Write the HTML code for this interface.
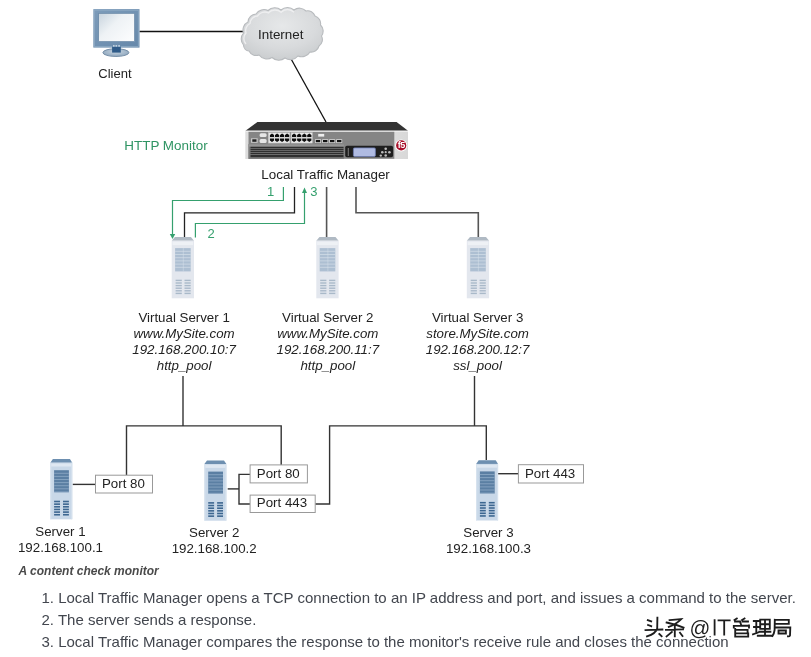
<!DOCTYPE html>
<html><head><meta charset="utf-8">
<style>
html,body{margin:0;padding:0;background:#fff;width:811px;height:657px;overflow:hidden}
svg{position:absolute;left:0;top:0;will-change:transform}
text{font-family:"Liberation Sans",sans-serif}
</style></head><body>
<svg width="811" height="657" viewBox="0 0 811 657">
<defs>
  <linearGradient id="scr" x1="0" y1="0" x2="1" y2="0.8">
    <stop offset="0" stop-color="#c8d4de"/><stop offset="0.45" stop-color="#eef2f5"/><stop offset="1" stop-color="#fbfcfd"/>
  </linearGradient>
  <linearGradient id="frm" x1="0" y1="0" x2="1" y2="1">
    <stop offset="0" stop-color="#7d9cba"/><stop offset="1" stop-color="#6688aa"/>
  </linearGradient>
  <radialGradient id="base" cx="0.5" cy="0.4" r="0.6">
    <stop offset="0" stop-color="#c6d3df"/><stop offset="1" stop-color="#8ea6bd"/>
  </radialGradient>
  <radialGradient id="cld" cx="0.5" cy="0.35" r="0.7">
    <stop offset="0" stop-color="#e6e8e9"/><stop offset="0.6" stop-color="#d8dadc"/><stop offset="1" stop-color="#c8cbcd"/>
  </radialGradient>
  <linearGradient id="endp" x1="0" y1="0" x2="1" y2="0">
    <stop offset="0" stop-color="#dcdcdc"/><stop offset="0.5" stop-color="#eeeeee"/><stop offset="1" stop-color="#d8d8d8"/>
  </linearGradient>
  <g id="vs">
    <polygon points="3.2,0 19.2,0 22.3,3.6 0,3.6" fill="#b0bac4"/>
    <rect x="0" y="3.6" width="22.3" height="57.6" fill="#e3e7ee"/>
    <rect x="0.8" y="4.5" width="20.7" height="3.5" fill="#eef1f5"/>
    <rect x="3.4" y="11" width="15.6" height="23.3" fill="#adbfd2"/>
    <g stroke="#d6e0ea" stroke-width="0.7">
      <line x1="3.4" y1="14.2" x2="19" y2="14.2"/><line x1="3.4" y1="17.4" x2="19" y2="17.4"/>
      <line x1="3.4" y1="20.6" x2="19" y2="20.6"/><line x1="3.4" y1="23.8" x2="19" y2="23.8"/>
      <line x1="3.4" y1="27" x2="19" y2="27"/><line x1="3.4" y1="30.2" x2="19" y2="30.2"/>
      <line x1="11.6" y1="11" x2="11.6" y2="34.3" stroke-width="0.5"/>
    </g>
    <g fill="#a9b9c9">
      <rect x="3.9" y="42.6" width="6.2" height="1.4"/><rect x="12.8" y="42.6" width="6.2" height="1.4"/>
      <rect x="3.9" y="45.2" width="6.2" height="1.4"/><rect x="12.8" y="45.2" width="6.2" height="1.4"/>
      <rect x="3.9" y="47.8" width="6.2" height="1.4"/><rect x="12.8" y="47.8" width="6.2" height="1.4"/>
      <rect x="3.9" y="50.4" width="6.2" height="1.4"/><rect x="12.8" y="50.4" width="6.2" height="1.4"/>
      <rect x="3.9" y="53" width="6.2" height="1.4"/><rect x="12.8" y="53" width="6.2" height="1.4"/>
      <rect x="3.9" y="55.6" width="6.2" height="1.4"/><rect x="12.8" y="55.6" width="6.2" height="1.4"/>
    </g>
  </g>
  <g id="rs">
    <polygon points="2.6,0 19.6,0 22,3.7 0,3.7" fill="#6d8fb0"/>
    <rect x="0" y="3.7" width="22" height="56.6" fill="#c9d8e8"/>
    <rect x="0.8" y="4.5" width="20.4" height="3" fill="#dfe8f2"/>
    <rect x="0" y="3.7" width="1" height="56.6" fill="#d9e4ef"/><rect x="21" y="3.7" width="1" height="56.6" fill="#d9e4ef"/>
    <rect x="3.8" y="11.2" width="14.8" height="22" fill="#5b7fa3"/>
    <g stroke="#8fabc6" stroke-width="0.8"><line x1="3.8" y1="14.3" x2="18.6" y2="14.3"/><line x1="3.8" y1="17.4" x2="18.6" y2="17.4"/><line x1="3.8" y1="20.5" x2="18.6" y2="20.5"/><line x1="3.8" y1="23.6" x2="18.6" y2="23.6"/><line x1="3.8" y1="26.7" x2="18.6" y2="26.7"/><line x1="3.8" y1="29.8" x2="18.6" y2="29.8"/><line x1="3.8" y1="32.9" x2="18.6" y2="32.9"/></g>
    <g fill="#3d6791"><rect x="3.8" y="41.70" width="5.9" height="1.6"/><rect x="12.7" y="41.70" width="5.9" height="1.6"/><rect x="3.8" y="44.35" width="5.9" height="1.6"/><rect x="12.7" y="44.35" width="5.9" height="1.6"/><rect x="3.8" y="47.00" width="5.9" height="1.6"/><rect x="12.7" y="47.00" width="5.9" height="1.6"/><rect x="3.8" y="49.65" width="5.9" height="1.6"/><rect x="12.7" y="49.65" width="5.9" height="1.6"/><rect x="3.8" y="52.30" width="5.9" height="1.6"/><rect x="12.7" y="52.30" width="5.9" height="1.6"/><rect x="3.8" y="54.95" width="5.9" height="1.6"/><rect x="12.7" y="54.95" width="5.9" height="1.6"/></g>
  </g>
</defs>

<!-- top connection lines -->
<g stroke="#111" stroke-width="1.3" fill="none">
  <line x1="139.5" y1="31.5" x2="244" y2="31.5"/>
  <line x1="290" y1="57" x2="326" y2="122"/>
</g>

<!-- client monitor -->
<g>
  <rect x="93.3" y="9.1" width="46.2" height="38.5" fill="url(#frm)"/>
  <rect x="94.5" y="10.3" width="43.8" height="36.1" fill="none" stroke="#8eaac4" stroke-width="0.8"/>
  <rect x="98.7" y="13.4" width="35.8" height="28.1" fill="url(#scr)" stroke="#5f80a0" stroke-width="0.6"/>
  <ellipse cx="115.9" cy="52.6" rx="13" ry="3.9" fill="url(#base)" stroke="#6f89a3" stroke-width="0.9"/>
  <rect x="112.1" y="46.6" width="8.7" height="6" fill="#2f5b89"/>
  <g fill="#e6f0f6"><rect x="113" y="45.3" width="1.6" height="1.2"/><rect x="115.5" y="45.3" width="1.6" height="1.2"/><rect x="118.3" y="45.3" width="1.6" height="1.2"/></g>
</g>
<text x="98.3" y="78.4" font-size="13" fill="#222">Client</text>

<!-- cloud -->
<path d="M243.5,45.0 A9.0,9.0 0 0 1 243.5,33.0 A8.9,8.9 0 0 1 248.0,22.0 A8.5,8.5 0 0 1 256.0,14.0 A9.4,9.4 0 0 1 268.0,10.5 A9.8,9.8 0 0 1 281.0,10.0 A9.8,9.8 0 0 1 294.0,10.0 A9.0,9.0 0 0 1 306.0,11.0 A7.7,7.7 0 0 1 315.0,16.0 A7.9,7.9 0 0 1 320.5,25.0 A8.3,8.3 0 0 1 321.5,36.0 A7.7,7.7 0 0 1 319.0,46.0 A8.1,8.1 0 0 1 310.0,52.0 A9.5,9.5 0 0 1 298.0,56.0 A9.9,9.9 0 0 1 285.0,58.0 A9.8,9.8 0 0 1 272.0,57.5 A9.9,9.9 0 0 1 259.0,55.0 A8.1,8.1 0 0 1 249.0,51.0 A6.1,6.1 0 0 1 243.5,45.0 Z" fill="url(#cld)" stroke="#b8bbbe" stroke-width="1.1"/>
<path d="M246,44 A8,8 0 0 1 246,33 A8,8 0 0 1 250,23.5 A8,8 0 0 1 257.5,16 A9,9 0 0 1 268.5,12.8 A9,9 0 0 1 281,12.3 A9,9 0 0 1 294,12.3" fill="none" stroke="#f2f3f4" stroke-width="1.4" opacity="0.8"/>
<text x="258" y="39.2" font-size="13.4" fill="#222">Internet</text>

<!-- LTM device -->
<g>
  <polygon points="257.4,122 396.6,122 408,130.8 245.5,130.8" fill="#333"/>
  <rect x="245.3" y="130.8" width="162.7" height="28.2" fill="url(#endp)"/>
  <rect x="245.5" y="130.8" width="162.5" height="1" fill="#f2f2f2"/>
  <rect x="248.5" y="131.8" width="145.8" height="27" fill="#858585"/>
  <rect x="248.5" y="144.2" width="95.4" height="14.7" fill="#7c7c7c"/>
  <rect x="248.5" y="144.2" width="95.4" height="2.4" fill="#959595"/>
  <g fill="#2f2f2f">
    <rect x="250.5" y="146.8" width="93" height="1.3"/>
    <rect x="250.5" y="148.8" width="93" height="1.3"/>
    <rect x="250.5" y="150.8" width="93" height="1.3"/>
    <rect x="250.5" y="152.9" width="93" height="1.3"/>
    <rect x="250.5" y="155" width="93" height="2.2"/>
  </g>
  <rect x="268.3" y="132.6" width="21.6" height="10.5" fill="#e8e8e8" stroke="#bbb" stroke-width="0.5"/>
  <rect x="291.1" y="132.6" width="21.3" height="10.5" fill="#e8e8e8" stroke="#bbb" stroke-width="0.5"/>
  <rect x="268.8" y="137.5" width="43" height="0.6" fill="#c4c4c4"/>
  <g fill="#0d0d0d"><polygon points="269.9,136.9 269.9,135.1 272.0,133.5 274.1,135.1 274.1,136.9"/><polygon points="269.9,138.6 269.9,140.4 272.0,142 274.1,140.4 274.1,138.6"/><polygon points="275.0,136.9 275.0,135.1 277.1,133.5 279.2,135.1 279.2,136.9"/><polygon points="275.0,138.6 275.0,140.4 277.1,142 279.2,140.4 279.2,138.6"/><polygon points="280.0,136.9 280.0,135.1 282.1,133.5 284.2,135.1 284.2,136.9"/><polygon points="280.0,138.6 280.0,140.4 282.1,142 284.2,140.4 284.2,138.6"/><polygon points="285.0,136.9 285.0,135.1 287.1,133.5 289.2,135.1 289.2,136.9"/><polygon points="285.0,138.6 285.0,140.4 287.1,142 289.2,140.4 289.2,138.6"/><polygon points="292.0,136.9 292.0,135.1 294.1,133.5 296.2,135.1 296.2,136.9"/><polygon points="292.0,138.6 292.0,140.4 294.1,142 296.2,140.4 296.2,138.6"/><polygon points="297.1,136.9 297.1,135.1 299.2,133.5 301.3,135.1 301.3,136.9"/><polygon points="297.1,138.6 297.1,140.4 299.2,142 301.3,140.4 301.3,138.6"/><polygon points="302.2,136.9 302.2,135.1 304.3,133.5 306.4,135.1 306.4,136.9"/><polygon points="302.2,138.6 302.2,140.4 304.3,142 306.4,140.4 306.4,138.6"/><polygon points="307.2,136.9 307.2,135.1 309.3,133.5 311.4,135.1 311.4,136.9"/><polygon points="307.2,138.6 307.2,140.4 309.3,142 311.4,140.4 311.4,138.6"/></g>
  <rect x="259.6" y="133.2" width="7" height="3.7" rx="1.5" fill="#e6e6e6"/>
  <rect x="259.6" y="139" width="7" height="4.1" rx="1.5" fill="#e6e6e6"/>
  <rect x="251" y="138.3" width="6.7" height="4.5" fill="#c8c8c8"/><rect x="252.3" y="139.3" width="4.2" height="2.5" fill="#222"/>
  <rect x="318.2" y="133.9" width="6" height="2.7" fill="#eee"/>
  <g fill="#ddd"><rect x="315" y="139.3" width="6" height="3.6"/><rect x="322.2" y="139.3" width="6" height="3.6"/><rect x="329.2" y="139.3" width="6" height="3.6"/><rect x="336.2" y="139.3" width="6" height="3.6"/></g>
  <g fill="#111"><rect x="315.8" y="140" width="4.4" height="2.2"/><rect x="323" y="140" width="4.4" height="2.2"/><rect x="330" y="140" width="4.4" height="2.2"/><rect x="337" y="140" width="4.4" height="2.2"/></g>
  <rect x="345.2" y="145.7" width="47.9" height="11.6" rx="1.8" fill="#1e1e1e"/>
  <rect x="347.8" y="148" width="0.9" height="8" fill="#888"/>
  <rect x="353.4" y="147.9" width="22" height="8.6" rx="1.2" fill="#b0bbe2" stroke="#6f7cb0" stroke-width="0.8"/>
  <g fill="#bbb">
    <circle cx="385.7" cy="148.8" r="1.3"/><circle cx="385.7" cy="155.5" r="1.3"/>
    <circle cx="382.3" cy="152.2" r="1.3"/><circle cx="389.4" cy="152.2" r="1.3"/>
    <circle cx="385.7" cy="152.2" r="1.1"/><circle cx="380.8" cy="155.6" r="1.2"/>
  </g>
  <circle cx="401.2" cy="145.4" r="6" fill="#fff"/>
  <circle cx="401.2" cy="145.4" r="5.1" fill="#a8102a"/>
  <text x="401.2" y="148.4" font-size="9" font-weight="bold" font-family="Liberation Serif" text-anchor="middle" letter-spacing="-0.6" fill="#fff">f5</text>
</g>

<!-- labels -->
<text x="124.3" y="150.2" font-size="13.45" fill="#2f9463">HTTP Monitor</text>
<text x="261.3" y="179.3" font-size="13.4" fill="#222">Local Traffic Manager</text>

<!-- LTM to virtual servers -->
<g stroke="#222" stroke-width="1.3" fill="none">
  <polyline points="294.5,187 294.5,212.8 184.5,212.8 184.5,237"/>
</g>
<g stroke="#555" stroke-width="1.6" fill="none">
  <line x1="326.6" y1="187" x2="326.6" y2="237"/>
  <polyline points="356,187 356,212.7 478.3,212.7 478.3,237"/>
</g>
<g stroke="#35a06e" stroke-width="1.2" fill="none">
  <polyline points="283.4,187 283.4,200.5 172.5,200.5 172.5,235"/>
  <polyline points="195.4,237.5 195.4,223.5 304.5,223.5 304.5,192"/>
</g>
<g fill="#35a06e">
  <polygon points="169.8,234 175.2,234 172.5,239"/>
  <polygon points="302,193 307,193 304.5,187.5"/>
</g>
<g font-size="13" fill="#35a06e">
  <text x="267" y="195.5">1</text>
  <text x="310.2" y="195.5">3</text>
  <text x="207.6" y="237.6">2</text>
</g>

<!-- virtual server icons -->
<use href="#vs" x="171.7" y="237.1"/>
<use href="#vs" x="316.3" y="237.1"/>
<use href="#vs" x="466.8" y="237.1"/>

<g font-size="13.3" fill="#222" text-anchor="middle">
  <text x="184.1" y="322">Virtual Server 1</text>
  <text x="184.1" y="338" font-style="italic">www.MySite.com</text>
  <text x="184.1" y="354" font-style="italic">192.168.200.10:7</text>
  <text x="184.1" y="370" font-style="italic">http_pool</text>
  <text x="327.8" y="322">Virtual Server 2</text>
  <text x="327.8" y="338" font-style="italic">www.MySite.com</text>
  <text x="327.8" y="354" font-style="italic">192.168.200.11:7</text>
  <text x="327.8" y="370" font-style="italic">http_pool</text>
  <text x="477.6" y="322">Virtual Server 3</text>
  <text x="477.6" y="338" font-style="italic">store.MySite.com</text>
  <text x="477.6" y="354" font-style="italic">192.168.200.12:7</text>
  <text x="477.6" y="370" font-style="italic">ssl_pool</text>
</g>

<!-- pool connections -->
<g stroke="#333" stroke-width="1.4" fill="none">
  <line x1="183" y1="376" x2="183" y2="425.9"/>
  <polyline points="126.5,475 126.5,425.9 281.2,425.9 281.2,465"/>
  <line x1="474.5" y1="376" x2="474.5" y2="425.9"/>
  <polyline points="315.2,504 329.6,504 329.6,425.9 486.3,425.9 486.3,460"/>
  <line x1="72.6" y1="484.4" x2="95.5" y2="484.4"/>
  <line x1="227.7" y1="488.9" x2="239" y2="488.9"/>
  <polyline points="250.1,474.4 239,474.4 239,504 250.1,504"/>
  <line x1="497.7" y1="473.7" x2="518.4" y2="473.7"/>
</g>

<!-- port boxes -->
<g fill="#fff" stroke="#999" stroke-width="1">
  <rect x="95.5" y="475.2" width="57" height="17.8"/>
  <rect x="250.1" y="464.9" width="57.3" height="18"/>
  <rect x="250.1" y="495.1" width="65.1" height="17.4"/>
  <rect x="518.4" y="464.7" width="65.1" height="18.3"/>
</g>
<g font-size="13.3" fill="#222">
  <text x="102" y="488.1">Port 80</text>
  <text x="256.8" y="477.6">Port 80</text>
  <text x="256.8" y="507.4">Port 443</text>
  <text x="525" y="477.8">Port 443</text>
</g>

<!-- real servers -->
<use href="#rs" x="50.3" y="459"/>
<use href="#rs" x="204.4" y="460.4"/>
<use href="#rs" x="476.1" y="460.2"/>

<g font-size="13.3" fill="#222" text-anchor="middle">
  <text x="60.5" y="535.6">Server 1</text>
  <text x="60.5" y="551.6">192.168.100.1</text>
  <text x="214.2" y="537.2">Server 2</text>
  <text x="214.2" y="553.2">192.168.100.2</text>
  <text x="488.5" y="537">Server 3</text>
  <text x="488.5" y="553">192.168.100.3</text>
</g>

<!-- caption and list -->
<text x="18.5" y="575" font-size="12" font-weight="bold" font-style="italic" fill="#4a4a4a">A content check monitor</text>
<g font-size="15" fill="#42464e">
  <text x="41.5" y="603">1. Local Traffic Manager opens a TCP connection to an IP address and port, and issues a command to the server.</text>
  <text x="41.5" y="625">2. The server sends a response.</text>
  <text x="41.5" y="647">3. Local Traffic Manager compares the response to the monitor's receive rule and closes the connection</text>
</g>

<!-- watermark -->
<g id="wm" fill="none" stroke-linecap="square" stroke-linejoin="miter">
  <g stroke="#fff" stroke-width="3.6" opacity="0.9" transform="translate(0.6,0.6)">
    <path d="M647.8,620.2 L651.2,621.4 M648.1,625 L651.2,626.2 M657.4,617.6 L657.2,628.5 Q656,633.5 647,636.4 M645.5,630.1 L662.4,629.5 M659.3,634 L661.6,636.2"/>
    <path d="M669.6,620.2 L681.2,619.2 Q676,624.5 668.8,626.9 M666.6,622.5 Q676,624.5 683.6,627.6 M665.9,629.9 L683,629.4 M674.8,626.5 L674.8,636.4 M671.8,632 L666.6,636.4 M680,632.7 L682.5,636"/>
    <path d="M734.5,620 L736.8,618.5 M735,621.5 L740,621.5 M742,620 L744.5,618.5 M742.5,621.5 L748,621.5 M740.5,623 L741,624.5 M733.8,625.8 L749,625.5 M733.8,625.8 L733.8,627.5 M749,625.5 L749,627.5 M735.2,629.8 L747.6,629.8 L747.6,633.3 L735.2,633.3 M735.2,628.8 L735.2,636.6 L748.2,636.6 L748.2,633.3"/>
    <path d="M753.8,621 L758.6,621 M754,627 L758.5,627 M753,634.3 L759.4,632 M756.3,621 L756.3,633 M760.2,619.6 L769.8,619.6 L769.8,628.8 L760.2,628.8 Z M760.2,624.2 L769.8,624.2 M765,619.6 L765,635.7 M759.4,631.7 L770.4,631.7 M757.8,635.7 L771.8,635.7"/>
    <path d="M774.8,619.8 L788.8,619.8 L788.8,623.8 L775.5,623.8 M774.8,619.8 L774.6,630 Q774,634 772.5,636 M775.5,627.5 L790.3,627.5 L790,635.5 Q789.6,636.6 788,636.4 M778.5,630.5 L785.9,630.5 L785.9,633.5 L778.5,633.5 Z"/>
  </g>
  <g stroke="#1c1c1c" stroke-width="1.85">
    <path d="M647.8,620.2 L651.2,621.4 M648.1,625 L651.2,626.2 M657.4,617.6 L657.2,628.5 Q656,633.5 647,636.4 M645.5,630.1 L662.4,629.5 M659.3,634 L661.6,636.2"/>
    <path d="M669.6,620.2 L681.2,619.2 Q676,624.5 668.8,626.9 M666.6,622.5 Q676,624.5 683.6,627.6 M665.9,629.9 L683,629.4 M674.8,626.5 L674.8,636.4 M671.8,632 L666.6,636.4 M680,632.7 L682.5,636"/>
    <path d="M734.5,620 L736.8,618.5 M735,621.5 L740,621.5 M742,620 L744.5,618.5 M742.5,621.5 L748,621.5 M740.5,623 L741,624.5 M733.8,625.8 L749,625.5 M733.8,625.8 L733.8,627.5 M749,625.5 L749,627.5 M735.2,629.8 L747.6,629.8 L747.6,633.3 L735.2,633.3 M735.2,628.8 L735.2,636.6 L748.2,636.6 L748.2,633.3"/>
    <path d="M753.8,621 L758.6,621 M754,627 L758.5,627 M753,634.3 L759.4,632 M756.3,621 L756.3,633 M760.2,619.6 L769.8,619.6 L769.8,628.8 L760.2,628.8 Z M760.2,624.2 L769.8,624.2 M765,619.6 L765,635.7 M759.4,631.7 L770.4,631.7 M757.8,635.7 L771.8,635.7"/>
    <path d="M774.8,619.8 L788.8,619.8 L788.8,623.8 L775.5,623.8 M774.8,619.8 L774.6,630 Q774,634 772.5,636 M775.5,627.5 L790.3,627.5 L790,635.5 Q789.6,636.6 788,636.4 M778.5,630.5 L785.9,630.5 L785.9,633.5 L778.5,633.5 Z"/>
  </g>
  <text x="689.6" y="634.6" font-size="20.5" fill="#1c1c1c" stroke="#fff" stroke-width="2.2" paint-order="stroke">@</text>
  <path d="M714.6,619.2 L714.6,635.6 M717.6,620.3 L730.6,620.3 M724.2,620.3 L724.2,635.6" stroke="#fff" stroke-width="3.6" transform="translate(0.6,0.6)"/>
  <path d="M714.6,619.2 L714.6,635.6 M717.6,620.3 L730.6,620.3 M724.2,620.3 L724.2,635.6" stroke="#1c1c1c" stroke-width="1.8" stroke-linecap="butt"/>
</g>
</svg>
</body></html>
